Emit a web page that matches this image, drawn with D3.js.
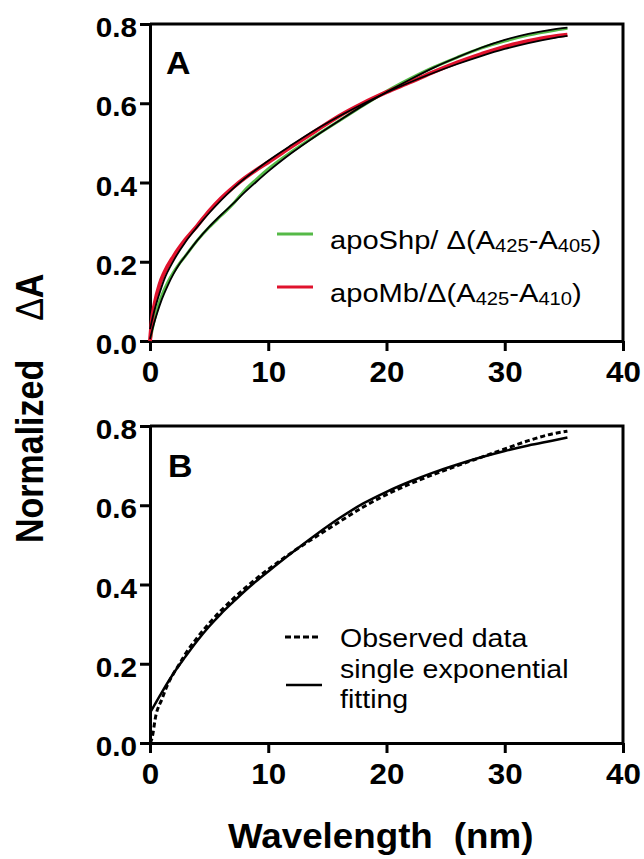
<!DOCTYPE html>
<html>
<head>
<meta charset="utf-8">
<script src="https://cdn.jsdelivr.net/npm/d3@7"></script>
<style>
body{margin:0;background:#fff}
svg{display:block}
text{font-family:"Liberation Sans",Arial,sans-serif;fill:#000}
</style>
</head>
<body>
<svg id="chart" width="644" height="859"></svg>
<script>
//------------DATA-----------
var xTicks=[0,10,20,30,40]
var yTicks=[0,0.2,0.4,0.6,0.8]

// panel A, apoShp (green) and apoMb (red) traces
var shpTime=[0,0.3,0.6,1,1.5,2,2.5,3,4,5,6,7,8,9,10,12,14,16,18,20,22,24,26,28,30,32,34,35.3]
var shpData=[0,0.045,0.08,0.115,0.148,0.174,0.196,0.215,0.254,0.287,0.316,0.345,0.380,0.408,0.434,0.478,0.518,0.556,0.594,0.630,0.662,0.691,0.716,0.739,0.757,0.772,0.783,0.789]
var shpFit=[0.005,0.04,0.07,0.105,0.14,0.17,0.195,0.215,0.254,0.288,0.318,0.346,0.375,0.402,0.428,0.475,0.517,0.556,0.594,0.628,0.660,0.690,0.716,0.740,0.760,0.775,0.786,0.791]

var mbTime=[0,0.15,0.4,0.8,1.2,2,3,4,5,6,7,8,9,10,12,14,16,18,20,22,24,26,28,30,32,34,35.3]
var mbData=[0,0.05,0.095,0.142,0.172,0.214,0.256,0.291,0.328,0.360,0.387,0.411,0.432,0.451,0.491,0.530,0.568,0.600,0.628,0.653,0.679,0.703,0.724,0.743,0.757,0.768,0.773]
var mbFit=[0.03,0.05,0.08,0.12,0.155,0.203,0.25,0.288,0.323,0.355,0.384,0.41,0.433,0.455,0.495,0.533,0.567,0.598,0.627,0.653,0.677,0.699,0.719,0.737,0.752,0.764,0.770]

// panel B, observed data vs single exponential fit
var obsTime=[0,0.15,0.5,1,1.5,2,2.5,3,4,5,6,7,8,9,10,12,14,16,18,20,22,24,26,28,30,32,34,35.3]
var obsData=[0,0.01,0.07,0.11,0.148,0.176,0.2,0.225,0.266,0.302,0.334,0.363,0.39,0.415,0.438,0.481,0.52,0.558,0.595,0.627,0.654,0.678,0.700,0.721,0.742,0.763,0.780,0.787]
var expTime=[0,1,2,3,4,5,6,7,8,9,10,12,14,16,18,20,22,24,26,28,30,32,34,35.3]
var expFit=[0.076,0.128,0.176,0.218,0.258,0.294,0.326,0.355,0.383,0.409,0.433,0.48,0.525,0.567,0.604,0.634,0.66,0.683,0.703,0.721,0.737,0.751,0.763,0.771]

var green="#55b947", red="#e0122d"

//--------CHART------------
var svg=d3.select('#chart')
svg.append('rect').attr('width',644).attr('height',859).attr('fill','#fff')

var x=d3.scaleLinear().domain([0,40]).range([150,623])
var yA=d3.scaleLinear().domain([0,0.8]).range([341,24])
var yB=d3.scaleLinear().domain([0,0.8]).range([743,426])

function pairs(xs,ys){
    return xs.map(function(d,i){ return [d,ys[i]] })
}

function drawAxes(y){
    var g=svg.append('g')
    // box on top and right
    g.append('path')
        .attr('d','M'+x(0)+','+y(0.8)+'H'+x(40)+'V'+y(0))
        .attr('fill','none').attr('stroke','#000').attr('stroke-width',3)

    var yAxis=d3.axisLeft(y).tickValues(yTicks).tickFormat(d3.format('.1f'))
        .tickSize(10).tickSizeOuter(0).tickPadding(3)
    var xAxis=d3.axisBottom(x).tickValues(xTicks).tickFormat(d3.format('d'))
        .tickSize(10).tickSizeOuter(0).tickPadding(10)

    var ya=g.append('g').attr('transform','translate('+x(0)+',0)').call(yAxis)
    var xa=g.append('g').attr('transform','translate(0,'+y(0)+')').call(xAxis)

    ;[ya,xa].forEach(function(a){
        a.attr('font-family',null).attr('font-size',null)
        a.selectAll('.domain,.tick line').attr('stroke','#000').attr('stroke-width',3)
        a.selectAll('text').attr('font-weight','bold').attr('fill','#000')
    })
    ya.selectAll('text').attr('font-size',27).attr('dy','0.47em')
        .attr('x',-13/1.1).attr('transform','scale(1.1,1)')
    xa.selectAll('text').attr('font-size',29).attr('transform','scale(1.08,1)')
}

function curve(y,data,color,width,dash){
    var line=d3.line()
        .x(function(d){ return x(d[0]) })
        .y(function(d){ return y(d[1]) })
        .curve(d3.curveMonotoneX)
    svg.append('path').datum(data)
        .attr('d',line)
        .attr('fill','none')
        .attr('stroke',color)
        .attr('stroke-width',width)
        .attr('stroke-dasharray',dash||null)
}

function label(px,py,sx,size,weight){
    return svg.append('text')
        .attr('transform','translate('+px+','+py+') scale('+sx+',1)')
        .attr('font-size',size)
        .attr('font-weight',weight||'normal')
}

//--------PANEL A---------
drawAxes(yA)
curve(yA,pairs(shpTime,shpData),green,3)
curve(yA,pairs(mbTime,mbData),red,4)
curve(yA,pairs(shpTime,shpFit),'#000',1.8)
curve(yA,pairs(mbTime,mbFit),'#000',1.8)

label(166,74,1.06,32,'bold').text('A')

svg.append('line').attr('x1',277).attr('x2',313).attr('y1',234).attr('y2',234)
    .attr('stroke',green).attr('stroke-width',3)
svg.append('line').attr('x1',277).attr('x2',313).attr('y1',287).attr('y2',287)
    .attr('stroke',red).attr('stroke-width',3)

function legendA(py,name,a1,a2){
    var t=label(330,py,1.12,26)
    t.append('tspan').text(name+'\u0394(A')
    t.append('tspan').attr('font-size',18).attr('dy',3).text(a1)
    t.append('tspan').attr('dy',-3).text('-A')
    t.append('tspan').attr('font-size',18).attr('dy',3).text(a2)
    t.append('tspan').attr('dy',-3).text(')')
}
legendA(249,'apoShp/ ','425','405')
legendA(302,'apoMb/','425','410')

//--------PANEL B---------
drawAxes(yB)
curve(yB,pairs(expTime,expFit),'#000',2.5)
curve(yB,pairs(obsTime,obsData),'#000',3,'5,3')

label(168,477,1.06,32,'bold').text('B')

svg.append('line').attr('x1',285).attr('x2',320).attr('y1',637).attr('y2',637)
    .attr('stroke','#000').attr('stroke-width',3).attr('stroke-dasharray','6,3')
svg.append('line').attr('x1',286).attr('x2',322).attr('y1',685).attr('y2',685)
    .attr('stroke','#000').attr('stroke-width',2.5)
label(340,647,1.12,25.5).text('Observed data')
label(340,678,1.12,25.5).text('single exponential')
label(340,708,1.12,25.5).text('fitting')

//--------AXIS TITLES---------
var yt=svg.append('text')
    .attr('transform','translate(43,543) scale(1.12,1) rotate(-90)')
    .attr('font-size',34).attr('font-weight','bold')
yt.append('tspan').text('Normalized')
yt.append('tspan').attr('dx',39).attr('font-weight','normal').text('\u0394')
yt.append('tspan').text('A')

var xt=label(228,848,1.05,35,'bold')
xt.append('tspan').text('Wavelength')
xt.append('tspan').attr('dx',20).text('(nm)')
</script>
</body>
</html>
